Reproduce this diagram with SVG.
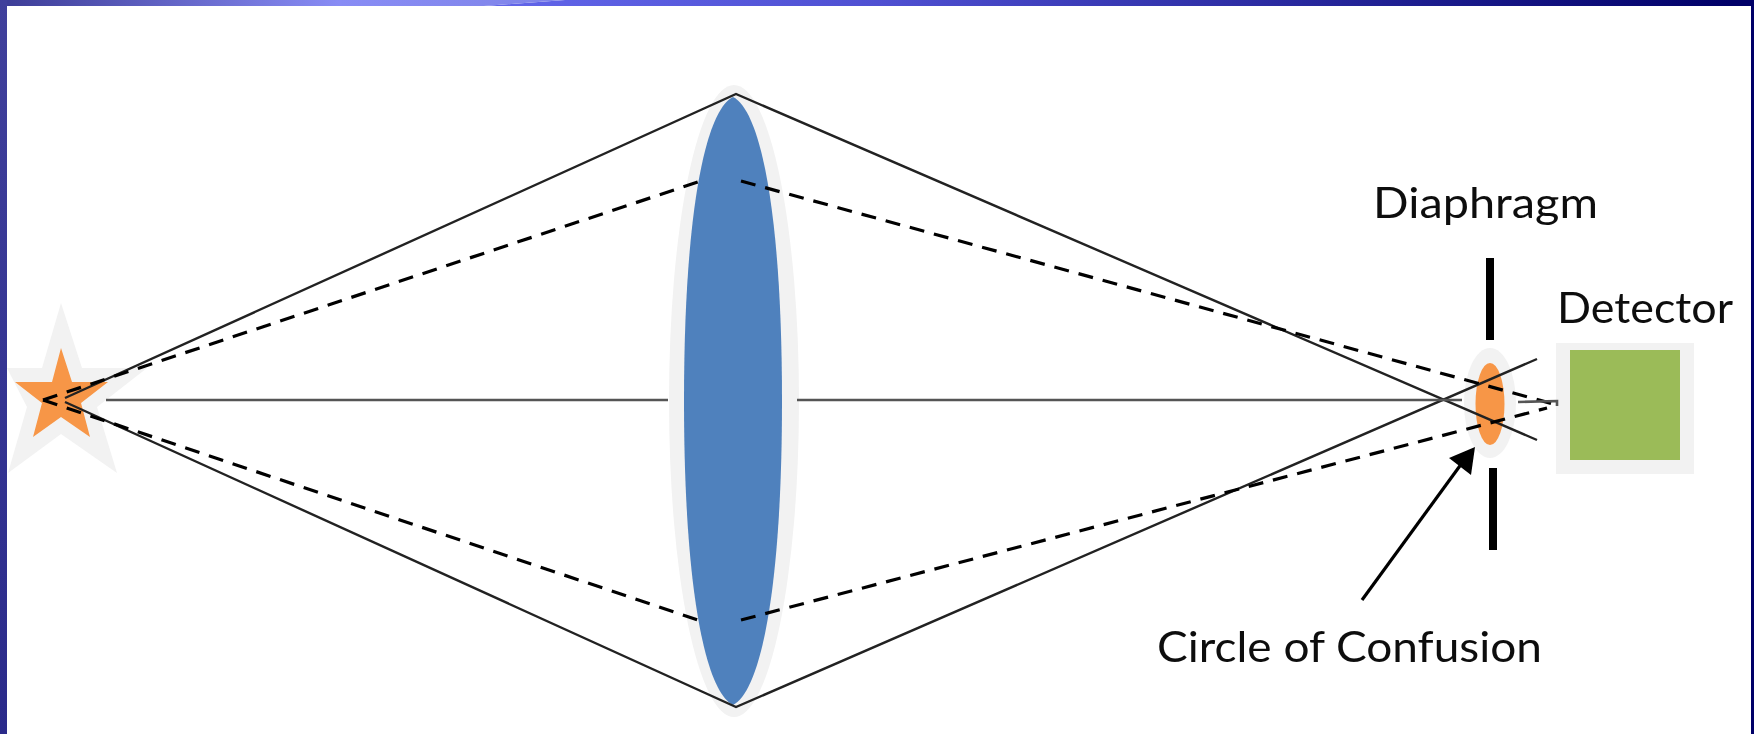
<svg xmlns="http://www.w3.org/2000/svg" width="1754" height="734" viewBox="0 0 1754 734">
<style>
.halo{fill:#f2f2f2}
.orange{fill:#f79646}
.solid{fill:none;stroke:#222;stroke-width:2.4}
.dash{fill:none;stroke:#000;stroke-width:3.2;stroke-dasharray:15 10}
.axis{fill:none;stroke:#555;stroke-width:2.6}
.bar{fill:#000}
text{font-family:"Lato","Open Sans","Liberation Sans",sans-serif;font-size:42px;fill:#111}
</style>
<defs>
<linearGradient id="topL" gradientUnits="userSpaceOnUse" x1="0" x2="565" y1="0" y2="0">
<stop offset="0" stop-color="#3c3c96"/>
<stop offset="0.6" stop-color="#888cf5"/>
<stop offset="1" stop-color="#7f84e8"/>
</linearGradient>
<linearGradient id="topR" gradientUnits="userSpaceOnUse" x1="484" x2="1754" y1="0" y2="0">
<stop offset="0" stop-color="#6266ea"/>
<stop offset="0.31" stop-color="#4f50d2"/>
<stop offset="0.98" stop-color="#000068"/>
<stop offset="1" stop-color="#000068"/>
</linearGradient>
<linearGradient id="left" x1="0" x2="0" y1="0" y2="1">
<stop offset="0" stop-color="#40409c"/>
<stop offset="1" stop-color="#2a2a8a"/>
</linearGradient>
<filter id="soft" x="0" y="0" width="1" height="1" filterUnits="objectBoundingBox"><feGaussianBlur stdDeviation="0.6"/></filter>
</defs>
<rect width="1754" height="734" fill="#fff"/>
<g id="frame">
<polygon points="484,6 565,0 1754,0 1754,6" fill="url(#topR)"/>
<polygon points="0,0 565,0 484,6 0,6" fill="url(#topL)"/>
<rect x="0" y="0" width="7" height="734" fill="url(#left)"/>
<rect x="1751" y="0" width="3" height="734" fill="#000068"/>
</g>
<g filter="url(#soft)">
<rect x="7" y="6" width="1744" height="728" fill="#fff"/>
<g id="star">
<polygon class="halo" points="61,303 82,368 147,368 97,407 117,473 61,434 8,473 27,407 7,368 42,368"/>
<polygon class="orange" points="61,348 72,382 108,382 81,403 90,437 61,417 33,437 42,403 15,382 52,382"/>
</g>
<g id="lens">
<ellipse class="halo" cx="734" cy="401" rx="65" ry="316"/>
<path d="M733 97C760 110 782 210 782 401C782 592 760 692 733 705C706 692 684 592 684 401C684 210 706 110 733 97Z" fill="#4f81bd"/>
</g>
<g id="circle-of-confusion">
<ellipse class="halo" cx="1490" cy="403" rx="26" ry="55"/>
<ellipse class="orange" cx="1490" cy="404" rx="14.5" ry="41"/>
</g>
<g id="diaphragm">
<rect class="bar" x="1486" y="258" width="8" height="82"/>
<rect class="bar" x="1489" y="468" width="8" height="82"/>
<text x="1373" y="218" textLength="225" lengthAdjust="spacingAndGlyphs">Diaphragm</text>
</g>
<g id="detector">
<rect class="halo" x="1556" y="343" width="138" height="131"/>
<rect x="1570" y="350" width="110" height="110" fill="#9bbb59"/>
<text x="1557" y="323" textLength="176" lengthAdjust="spacingAndGlyphs">Detector</text>
</g>
<g id="connectors">
<path class="solid" d="M65 398L736 94L1537 440"/>
<path class="solid" d="M65 402L736 707L1537 359"/>
<path class="dash" d="M43 400L698 182M741 181L1557 405"/>
<path class="dash" d="M43 400L698 620M741 620L1547 408"/>
<path class="axis" d="M106 400H668M797 400H1462M1518 402L1557 401V406"/>
<line x1="1362" y1="600" x2="1462" y2="463" stroke="#000" stroke-width="3.2"/>
<polygon points="1475,447 1449,458 1471,475" fill="#000"/>
</g>
<text id="label-circle" x="1157" y="662" textLength="385" lengthAdjust="spacingAndGlyphs">Circle of Confusion</text>
</g>
</svg>
